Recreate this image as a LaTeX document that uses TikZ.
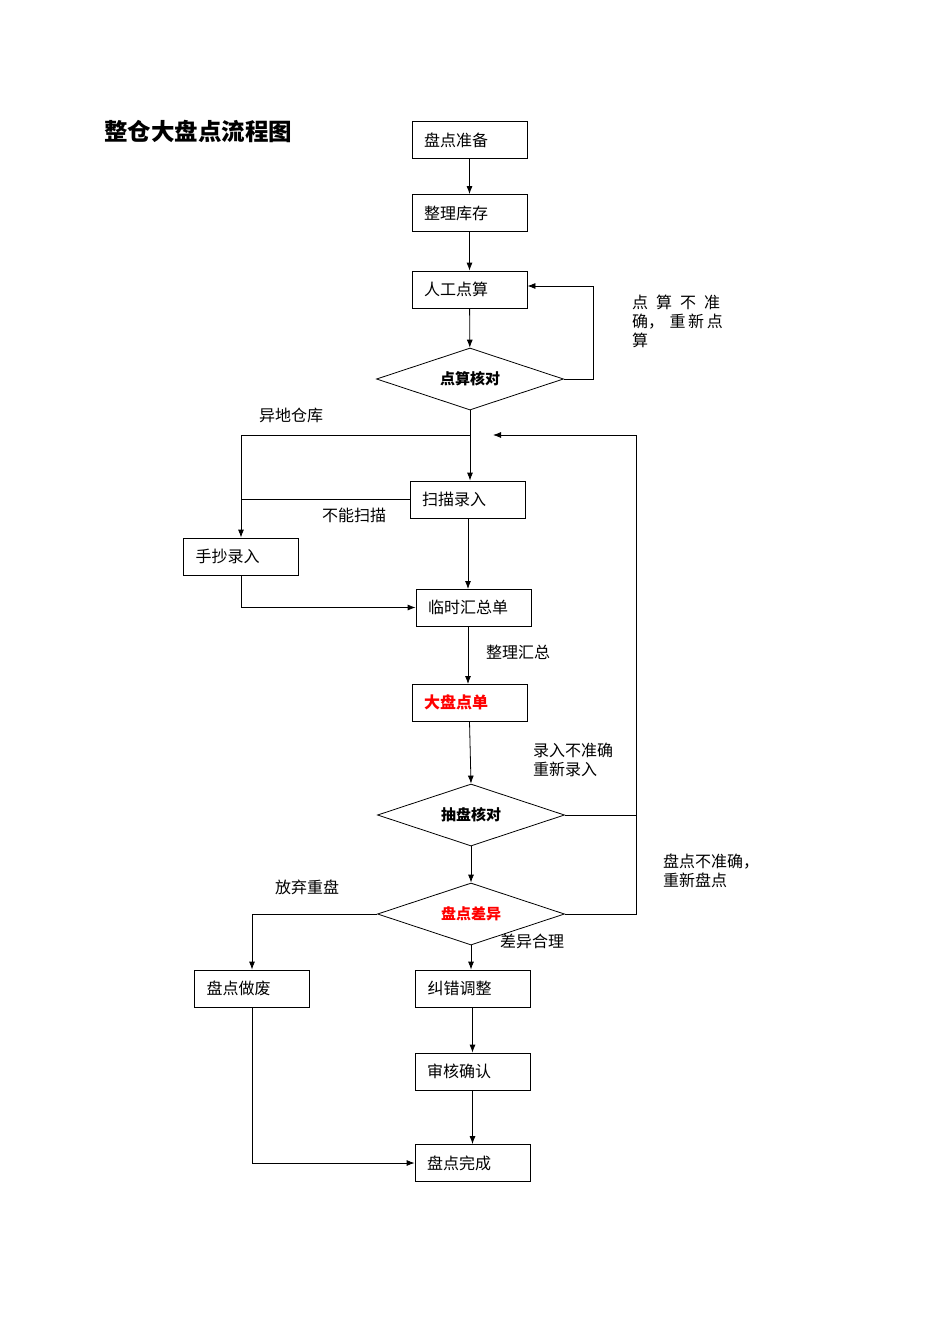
\documentclass[tikz,border=0pt]{standalone}
\usepackage{fontspec}
\newfontfamily\cjk{Noto Sans CJK SC}
\usetikzlibrary{arrows.meta,shapes.geometric}
\begin{document}
\begin{tikzpicture}[x=1pt,y=-1pt,font=\cjk\fontsize{16}{19}\selectfont,
 box/.style={draw,line width=0.8pt,minimum width=115pt,minimum height=37pt,text width=91pt,align=left,inner sep=0pt},
 dia/.style={draw,line width=0.8pt,diamond,aspect=3,minimum width=187pt,minimum height=62pt,inner sep=0pt,font=\cjk\bfseries\fontsize{15}{17}\selectfont},
 arr/.style={-{Latex[length=8pt,width=6pt]},line width=0.8pt},
 ln/.style={line width=0.8pt},
 lbl/.style={anchor=west,inner sep=0pt,align=left}]
\useasboundingbox (0,0) rectangle (950,1344);
\node[anchor=west,inner sep=0pt,font=\cjk\bfseries\fontsize{23.5}{26}\selectfont] (title) at (104,131) {整仓大盘点流程图};
\node[box] (a) at (469.5,140) {盘点准备};
\node[box] (b) at (469.5,213) {整理库存};
\node[box] (c) at (469.5,289.5) {人工点算};
\node[dia] (d) at (470,379) {点算核对};
\node[box] (e) at (467.5,499.5) {扫描录入};
\node[box] (f) at (241,556.5) {手抄录入};
\node[box] (g) at (473.5,607.5) {临时汇总单};
\node[box,text=red,font=\cjk\bfseries\fontsize{16}{19}\selectfont] (h) at (469.5,702.5) {大盘点单};
\node[dia] (i) at (471,815) {抽盘核对};
\node[dia,text=red] (j) at (471,914) {盘点差异};
\node[box] (k) at (252,988.5) {盘点做废};
\node[box] (l) at (473,988.5) {纠错调整};
\node[box] (m) at (472.5,1071.5) {审核确认};
\node[box] (n) at (472.5,1163) {盘点完成};
\coordinate (p1) at (470,435);
\coordinate (p2) at (493,435);
\coordinate (p3) at (636,815);
\draw[arr] (a) -- (b);
\draw[arr] (b) -- (c);
\draw[arr] (c) -- (d);
\draw[arr] (d.east) -- (593,379) -- (593,286) -- (c.east |- 0,286);
\draw[arr] (d.south) -- (e.north -| d.south);
\draw[arr] (p1) -- (241,435) -- (f.north);
\draw[ln] (e.west) -- (241,499.5);
\draw[arr] (468,518) -- (468,589);
\draw[arr] (f.south) -- (241,607.5) -- (g.west);
\draw[arr] (468,626) -- (468,684);
\draw[arr] (h.south) -- (i.north);
\draw[arr] (i.east) -- (p3) -- (636,435) -- (p2);
\draw[ln] (j.east) -- (636,914) -- (p3);
\draw[arr] (i.south) -- (j.north);
\draw[arr] (j.west) -- (252,914) -- (k.north);
\draw[arr] (j.south) -- (l.north -| j.south);
\draw[arr] (l.south -| m.north) -- (m.north);
\draw[arr] (m) -- (n);
\draw[arr] (k.south) -- (252,1163) -- (n.west);
\node[lbl] (t1) at (632,321) {点\,\,\,算\,\,\,不\,\,\,准\\确，\,\,重\,新\,点\\算};
\node[lbl] (t2) at (259,415) {异地仓库};
\node[lbl] (t3) at (322,515) {不能扫描};
\node[lbl] (t4) at (486,652) {整理汇总};
\node[lbl] (t5) at (533,760) {录入不准确\\重新录入};
\node[lbl] (t6) at (663,871) {盘点不准确，\\重新盘点};
\node[lbl] (t7) at (275,887) {放弃重盘};
\node[lbl] (t8) at (500,941) {差异合理};
\end{tikzpicture}
\end{document}
